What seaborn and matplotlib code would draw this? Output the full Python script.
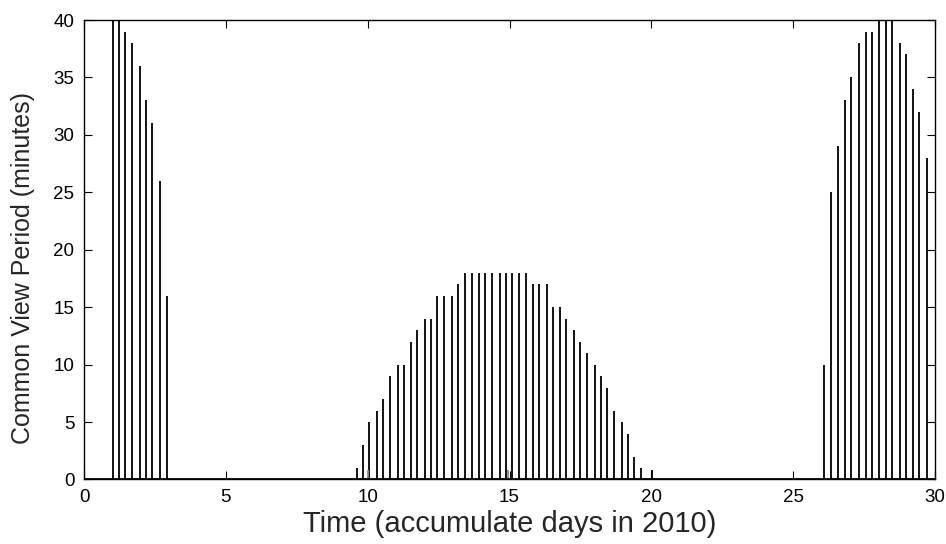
import numpy as np
import pandas as pd
import matplotlib
matplotlib.use("Agg")
import matplotlib.pyplot as plt
import seaborn as sns

# Common view periods (day of 2010, minutes)
days_early = [1.01, 1.23, 1.46, 1.68, 1.96, 2.19, 2.41, 2.68, 2.92]
mins_early = [42, 41, 39, 38, 36, 33, 31, 26, 16]

days_mid = [9.61, 9.82, 10.06, 10.34, 10.55, 10.79, 11.06, 11.28, 11.52, 11.73,
            12.01, 12.23, 12.45, 12.68, 12.96, 13.18, 13.42, 13.69, 13.91, 14.13,
            14.37, 14.65, 14.88, 15.09, 15.32, 15.59, 15.82, 16.04, 16.32, 16.54,
            16.77, 16.99, 17.26, 17.48, 17.72, 18.00, 18.22, 18.44, 18.67, 18.95,
            19.17, 19.39, 19.62, 20.01]
mins_mid = [1, 3, 5, 6, 7, 9, 10, 10, 12, 13,
            14, 14, 16, 16, 16, 17, 18, 18, 18, 18,
            18, 18, 18, 18, 18, 18, 17, 17, 17, 15,
            15, 14, 13, 12, 11, 10, 9, 8, 6, 5,
            4, 2, 1, 0.8]

days_late = [26.08, 26.32, 26.59, 26.81, 27.04, 27.32, 27.55, 27.77, 28.04, 28.26,
             28.49, 28.76, 28.99, 29.21, 29.44, 29.71]
mins_late = [10, 25, 29, 33, 35, 38, 39, 39, 41, 41,
             41, 38, 37, 34, 32, 28]

# faint short stubs
days_faint = [10.01, 14.96]
mins_faint = [0.8, 0.8]

x_ticks = [0, 5, 10, 15, 20, 25, 30]
y_ticks = [0, 5, 10, 15, 20, 25, 30, 35, 40]

df = pd.DataFrame({
    "day": days_early + days_mid + days_late,
    "minutes": mins_early + mins_mid + mins_late,
})

sns.set_style("ticks")
plt.rcParams["font.family"] = ["Liberation Sans", "DejaVu Sans"]

fig = plt.figure(figsize=(9.46, 5.44), dpi=100)
ax = fig.add_axes([0.0888, 0.1186, 0.8996, 0.8446])

ax.vlines(df["day"], 0, df["minutes"], colors="black", linewidth=1.3)
ax.vlines(days_faint, 0, mins_faint, colors="#8a8a8a", linewidth=1.3)
ax.axhline(0, color="black", linewidth=2.0, zorder=3)

ax.set_xlim(0, 30)
ax.set_ylim(0, 40)
ax.set_xticks(x_ticks)
ax.set_yticks(y_ticks)
ax.tick_params(direction="in", length=6, width=0.8, top=True, right=True,
               labelsize=13.5, colors="black")
ax.tick_params(axis="x", pad=7)
ax.tick_params(axis="y", pad=7)
for side in ax.spines.values():
    side.set_color("black")
    side.set_linewidth(1.0)

ax.set_xlabel("Time (accumulate days in 2010)", fontsize=21, labelpad=3)
ax.set_ylabel("Common View Period (minutes)", fontsize=18)
ax.yaxis.set_label_coords(-0.057, 0.46)

fig.savefig("out.png", dpi=100)
